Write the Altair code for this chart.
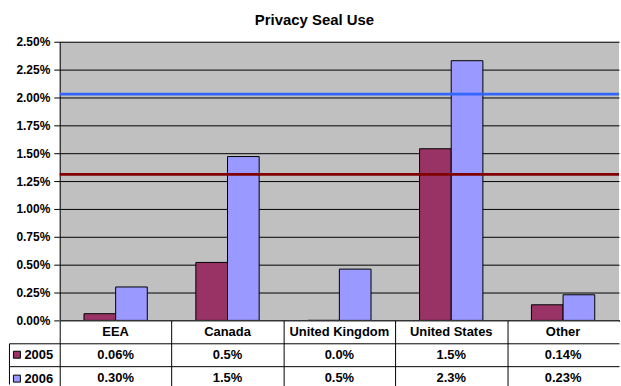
import altair as alt
import pandas as pd

# ---------------- data ----------------
categories = ["EEA", "Canada", "United Kingdom", "United States", "Other"]
years = ["2005", "2006"]
use_2005 = [0.06, 0.52, 0.0, 1.54, 0.14]
use_2006 = [0.30, 1.47, 0.46, 2.33, 0.23]
table_2005 = ["0.06%", "0.5%", "0.0%", "1.5%", "0.14%"]
table_2006 = ["0.30%", "1.5%", "0.5%", "2.3%", "0.23%"]
ref_levels = [1.31, 2.03]
ref_colors = ["#800000", "#3366FF"]
y_ticks = [0, 0.25, 0.5, 0.75, 1.0, 1.25, 1.5, 1.75, 2.0, 2.25, 2.5]
year_colors = ["#993366", "#9999FF"]
table_rows = ["h", "2005", "2006"]

FONT = "Liberation Sans"
W = 562
H = 280
ROW = 23
COL = W / len(categories)

bars_df = pd.DataFrame({
    "category": categories * 2,
    "year": ["2005"] * len(categories) + ["2006"] * len(categories),
    "value": use_2005 + use_2006,
})
rules_df = pd.DataFrame({"value": ref_levels, "color": ref_colors})
table_df = pd.DataFrame({
    "category": categories * 3,
    "row": ["h"] * 5 + ["2005"] * 5 + ["2006"] * 5,
    "label": categories + table_2005 + table_2006,
})
border_df = pd.DataFrame({"row": ["2005", "2006"]})

# ---------------- bar panel ----------------
y_enc = alt.Y(
    "value:Q",
    scale=alt.Scale(domain=[0, 2.5], nice=False, zero=True),
    axis=alt.Axis(
        values=y_ticks,
        labelExpr="format(datum.value, '.2f') + '%'",
        labelFont=FONT, labelFontSize=12, labelFontWeight="bold", labelColor="black",
        labelPadding=4, tickSize=6, tickColor="black",
        domainColor="black", gridColor="black", gridWidth=1, grid=True, title=None,
    ),
)
x_enc = alt.X(
    "category:N", sort=categories,
    scale=alt.Scale(paddingInner=0.434, paddingOuter=0.217),
    axis=alt.Axis(labels=False, ticks=False, domain=True, domainColor="black",
                  domainWidth=2, grid=False, title=None),
)

bars = alt.Chart(bars_df).mark_bar(stroke="black", strokeWidth=1).encode(
    x=x_enc,
    xOffset=alt.XOffset("year:N", sort=years, scale=alt.Scale(paddingInner=0, paddingOuter=0)),
    y=y_enc,
    color=alt.Color(
        "year:N", scale=alt.Scale(domain=years, range=year_colors),
        legend=alt.Legend(
            orient="none", legendX=-49.5, legendY=308, title=None, direction="vertical",
            symbolType="square", symbolSize=49, symbolStrokeColor="black",
            symbolStrokeWidth=1, labelFont=FONT, labelFontSize=13,
            labelFontWeight="bold", labelColor="black", labelOffset=1,
            rowPadding=10, padding=0,
        ),
    ),
)

rules = alt.Chart(rules_df).mark_rule(strokeWidth=3).encode(
    y=y_enc,
    stroke=alt.Stroke("color:N", scale=None),
)

top = alt.layer(bars, rules).properties(
    width=W, height=H, view=alt.ViewBackground(fill="#C0C0C0", stroke=None)
)

# ---------------- data table ----------------
table_text = alt.Chart(table_df).mark_text(
    font=FONT, fontSize=13, fontWeight="bold", color="black", baseline="middle"
).encode(
    x=alt.X(
        "category:N", sort=categories,
        scale=alt.Scale(paddingInner=0, paddingOuter=0),
        axis=alt.Axis(orient="top", grid=True, gridColor="black", gridWidth=1,
                      tickOffset=-COL / 2, labels=False, ticks=False, domain=False,
                      title=None),
    ),
    y=alt.Y(
        "row:N",
        scale=alt.Scale(domain=table_rows, range=[0, 3 * ROW], paddingInner=0, paddingOuter=0),
        axis=alt.Axis(
            orient="left", domain=False, grid=True, gridColor="black", gridWidth=1,
            tickOffset=-ROW / 2, ticks=True, tickSize=51,
            tickColor={"condition": {"test": "datum.value === 'h'", "value": "transparent"},
                       "value": "black"},
            labels=False, title=None,
        ),
    ),
    text="label:N",
)

border = alt.Chart(border_df).mark_text(text="").encode(
    y=alt.Y(
        "row:N",
        scale=alt.Scale(domain=["2005", "2006"], range=[ROW, 64]),
        axis=alt.Axis(orient="left", offset=51, domain=True, domainColor="black",
                      ticks=False, labels=False, grid=False, title=None),
    ),
)

table = alt.layer(table_text, border).resolve_scale(y="independent").properties(
    width=W, height=64, view=alt.ViewBackground(fill="white", stroke=None)
)

chart = alt.vconcat(
    top, table, spacing=0, bounds="flush",
    title=alt.TitleParams(
        "Privacy Seal Use", font=FONT, fontSize=15, fontWeight="bold",
        color="black", anchor="middle", offset=8,
    ),
).properties(
    padding={"left": 8, "top": 12, "right": 0, "bottom": 0},
    background="white",
)

chart.save("out.html", embed_options={"renderer": "svg", "actions": False})
